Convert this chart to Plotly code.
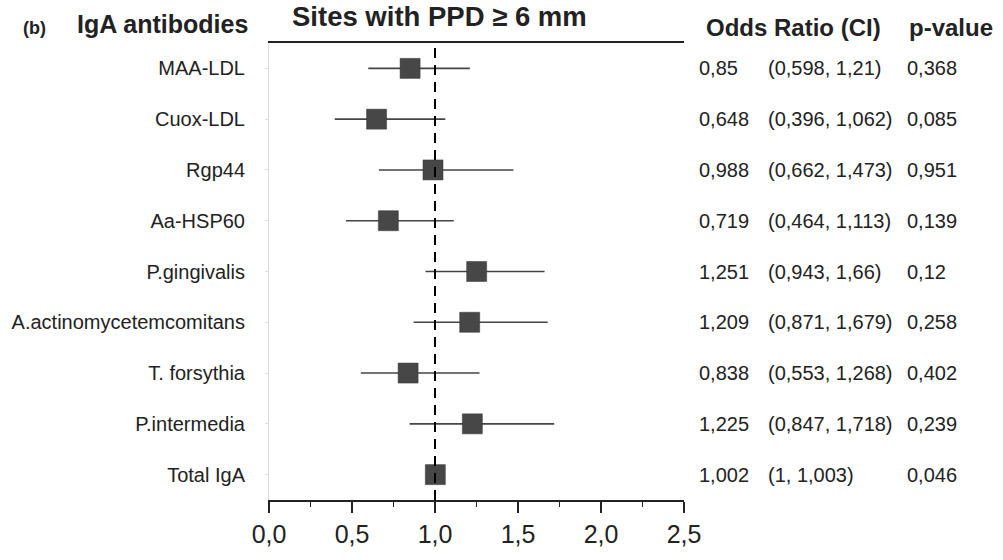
import plotly.graph_objects as go

labels = ["MAA-LDL", "Cuox-LDL", "Rgp44", "Aa-HSP60", "P.gingivalis",
          "A.actinomycetemcomitans", "T. forsythia", "P.intermedia", "Total IgA"]
odds = [0.85, 0.648, 0.988, 0.719, 1.251, 1.209, 0.838, 1.225, 1.002]
ci_low = [0.598, 0.396, 0.662, 0.464, 0.943, 0.871, 0.553, 0.847, 1.0]
ci_high = [1.21, 1.062, 1.473, 1.113, 1.66, 1.679, 1.268, 1.718, 1.003]
p_values = [0.368, 0.085, 0.951, 0.139, 0.12, 0.258, 0.402, 0.239, 0.046]
x_ticks = [0.0, 0.5, 1.0, 1.5, 2.0, 2.5]

FONT = "Liberation Sans, Arial, sans-serif"
TXT = "#222222"


def fmt(v):
    return f"{v:g}".replace(".", ",")


rows = list(range(len(labels)))

fig = go.Figure()
fig.add_trace(go.Scatter(
    x=odds, y=rows, mode="markers",
    marker=dict(symbol="square", size=20, color="#474747",
                line=dict(color="#333333", width=0.5)),
    error_x=dict(type="data", symmetric=False,
                 array=[h - o for h, o in zip(ci_high, odds)],
                 arrayminus=[o - l for o, l in zip(odds, ci_low)],
                 color="#444444", thickness=1.6, width=0),
    showlegend=False, hoverinfo="skip",
))

# reference line at OR = 1
fig.add_shape(type="line", xref="x", yref="paper", x0=1, x1=1, y0=0, y1=1,
              line=dict(color="black", width=2, dash="10px,7px"), layer="above")

annotations = []
for i in rows:
    annotations.append(dict(xref="paper", yref="y", x=(697 - 262) / 422.0, y=i, text=fmt(odds[i]),
                            xanchor="left", yanchor="middle", showarrow=False,
                            font=dict(family=FONT, size=20, color=TXT)))
    annotations.append(dict(xref="paper", yref="y", x=(767 - 262) / 422.0, y=i,
                            text=f"({fmt(ci_low[i])}, {fmt(ci_high[i])})",
                            xanchor="left", yanchor="middle", showarrow=False,
                            font=dict(family=FONT, size=20, color=TXT)))
    annotations.append(dict(xref="paper", yref="y", x=(909 - 262) / 422.0, y=i, text=fmt(p_values[i]),
                            xanchor="left", yanchor="middle", showarrow=False,
                            font=dict(family=FONT, size=20, color=TXT)))

H = 472.0
def py(px):
    return (515 - px) / H

def pxr(x):
    return (x - 262) / 422.0

annotations += [
    dict(xref="paper", yref="paper", x=pxr(10), y=py(27), text="<b>(b)</b>",
         xanchor="left", yanchor="middle", showarrow=False,
         font=dict(family=FONT, size=18, color=TXT)),
    dict(xref="paper", yref="paper", x=pxr(243), y=py(23), text="<b>IgA antibodies</b>",
         xanchor="right", yanchor="middle", showarrow=False,
         font=dict(family=FONT, size=25, color=TXT)),
    dict(xref="paper", yref="paper", x=pxr(435), y=py(16), text="<b>Sites with PPD ≥ 6 mm</b>",
         xanchor="center", yanchor="middle", showarrow=False,
         font=dict(family=FONT, size=27.5, color=TXT)),
    dict(xref="paper", yref="paper", x=pxr(704), y=py(27), text="<b>Odds Ratio (CI)</b>",
         xanchor="left", yanchor="middle", showarrow=False,
         font=dict(family=FONT, size=24, color=TXT)),
    dict(xref="paper", yref="paper", x=pxr(911), y=py(27), text="<b>p-value</b>",
         xanchor="left", yanchor="middle", showarrow=False,
         font=dict(family=FONT, size=24, color=TXT)),
]

fig.update_layout(
    width=1003, height=560,
    margin=dict(l=262, r=319, t=43, b=45),
    paper_bgcolor="white", plot_bgcolor="white",
    separators=",.",
    annotations=annotations,
    font=dict(family=FONT, color=TXT),
    xaxis=dict(range=[0, 2.5], tickvals=x_ticks, tickformat=".1f",
               showgrid=False, zeroline=False,
               showline=True, linecolor="#222222", linewidth=1.6, mirror=True,
               ticks="outside", ticklen=11, tickwidth=1.6, tickcolor="#222222",
               minor=dict(dtick=0.25, ticks="outside", ticklen=5, tickwidth=1.4,
                          tickcolor="#222222", showgrid=False),
               tickfont=dict(family=FONT, size=25, color=TXT)),
    yaxis=dict(range=[8.5, -0.5], tickvals=rows, ticktext=labels,
               showgrid=False, zeroline=False,
               showline=True, linecolor="#dcdcdc", linewidth=1,
               ticks="outside", ticklen=3, tickcolor="#dcdcdc",
               ticklabelstandoff=16,
               tickfont=dict(family=FONT, size=20, color=TXT)),
)

fig.write_html("out.html", config={"displayModeBar": False},
               post_script="document.body.style.margin='0px';document.body.style.overflow='hidden';")
